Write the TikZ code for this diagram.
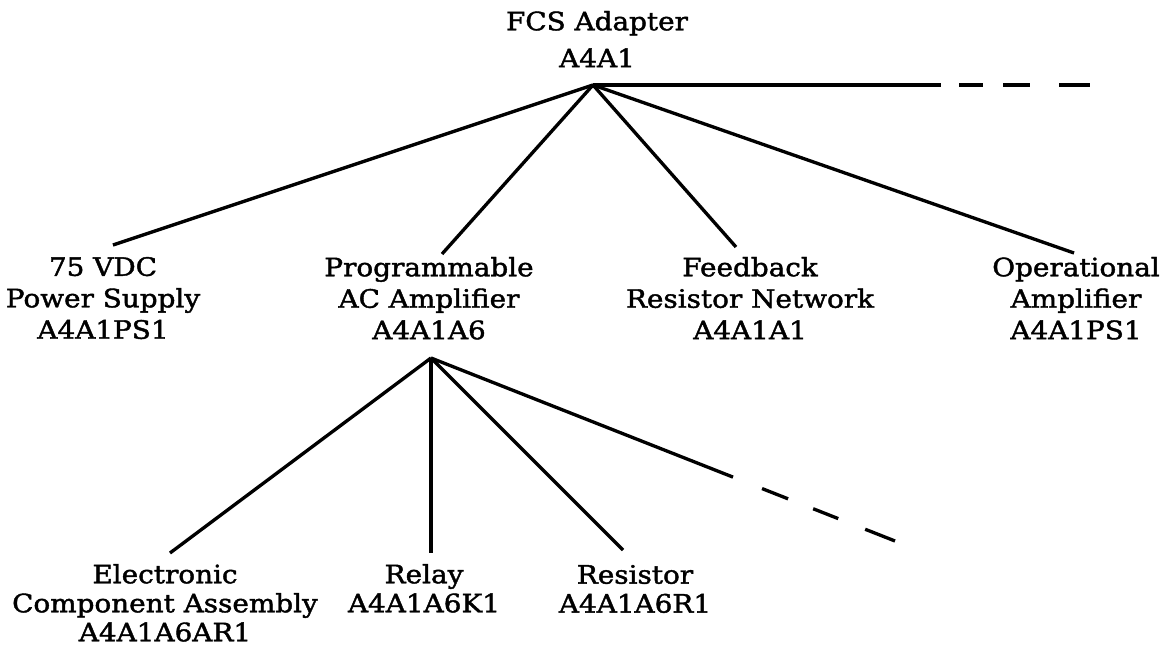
\documentclass[tikz,border=0pt]{standalone}
\usepackage{fontspec}
\setmainfont[FakeStretch=1.1,FakeBold=1.6]{DejaVu Serif}
\newcommand\lblfont[1]{\fontsize{19pt}{#1}\selectfont}
\begin{document}
\begin{tikzpicture}[x=0.75pt,y=-0.75pt,
  lbl/.style={anchor=north,align=center,inner sep=0pt,outer sep=0pt},
  toplbl/.style={lbl,font=\lblfont{27.75pt}},
  midlbl/.style={lbl,font=\lblfont{23.6pt}},
  lowlbl/.style={lbl,font=\lblfont{21.75pt}},
  branch/.style={line width=2.5pt,line cap=butt}]
\fill[white] (0,0) rectangle (1164,650);
\useasboundingbox (0,0) rectangle (1164,650);

% labels of the breakdown tree
\node[toplbl] (root) at (597,11) {FCS Adapter\\A4A1};
\node[midlbl] (vdc) at (103,257) {75 VDC\\Power Supply\\A4A1PS1};
\node[midlbl] (pac) at (429,257) {Programmable\\AC Amplifier\\A4A1A6};
\node[midlbl] (frn) at (750,257) {Feedback\\Resistor Network\\A4A1A1};
\node[midlbl] (opamp) at (1076,257) {Operational\\Amplifier\\A4A1PS1};
\node[lowlbl] (eca) at (165,564) {Electronic\\Component Assembly\\A4A1A6AR1};
\node[lowlbl] (relay) at (424,564) {Relay\\A4A1A6K1};
\node[lowlbl] (resistor) at (635,565) {Resistor\\A4A1A6R1};

% branching points and open ends
\coordinate (rj) at (593,85);
\coordinate (pj) at (431,358);
\coordinate (rmore) at (1090,85);
\coordinate (pmore) at (895,541);

% first level
\draw[branch] (rj) -- ([shift={(10,-12)}]vdc.north);
\draw[branch] (rj) -- ([shift={(13,-3)}]pac.north);
\draw[branch] (rj) -- ([shift={(-14,-10)}]frn.north);
\draw[branch] (rj) -- ([shift={(-2,-4)}]opamp.north);
\draw[branch,dash pattern=on 261pt off 13.5pt on 18pt off 15pt on 20.25pt off 21.75pt on 23.25pt] (rj) -- (rmore);

% second level
\draw[branch] (pj) -- ([shift={(5,-11)}]eca.north);
\draw[branch] (pj) -- ([shift={(7,-11)}]relay.north);
\draw[branch] (pj) -- ([shift={(-12,-15)}]resistor.north);
\draw[branch,dash pattern=on 243.5pt off 23.4pt on 21pt off 20.2pt on 20.2pt off 21.75pt on 24.15pt] (pj) -- (pmore);
\end{tikzpicture}
\end{document}
